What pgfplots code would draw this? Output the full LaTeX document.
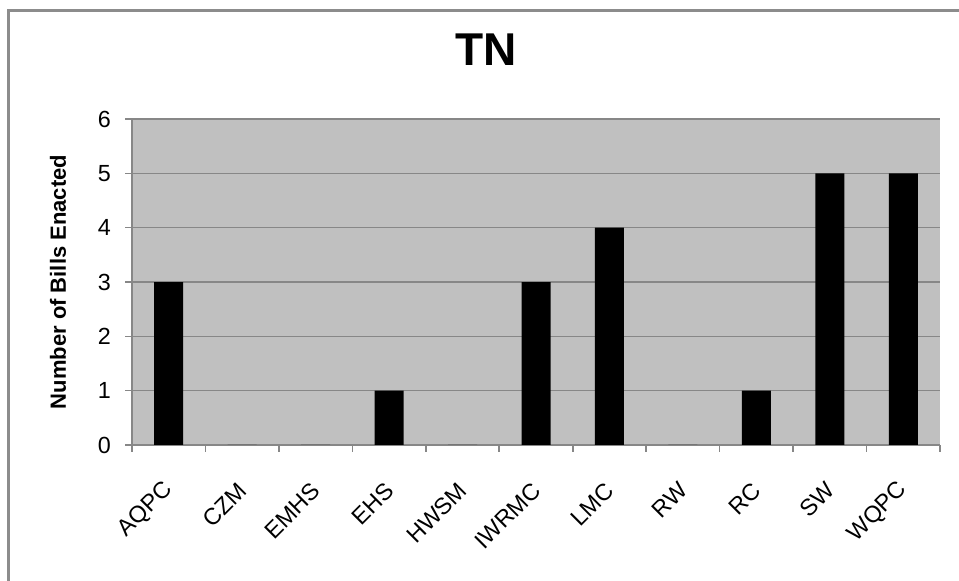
\documentclass[border=0pt]{standalone}
\usepackage{fontspec}
\setmainfont{Liberation Sans}
\usepackage{pgfplots}
\pgfplotsset{compat=1.18}
\definecolor{plotbg}{HTML}{C0C0C0}
\definecolor{gridgray}{HTML}{878787}
\definecolor{framegray}{HTML}{8C8C8C}
\begin{document}
\begin{tikzpicture}
\useasboundingbox (0,0) rectangle (719.25pt,435.75pt);
\draw[framegray, line width=2.25pt] (6pt,-5pt) -- (6pt,427.5pt) -- (725pt,427.5pt);
\begin{axis}[
  at={(99pt,102pt)}, anchor=south west,
  width=606pt, height=244.5pt, scale only axis,
  xmin=-0.5, xmax=10.5, ymin=0, ymax=6,
  axis background/.style={fill=plotbg},
  axis lines=left, axis line style={-, draw=gridgray, line width=1.2pt},
  ymajorgrids, grid style={gridgray, line width=1.2pt},
  ytick={0,1,2,3,4,5,6},
  xtick={0,...,10},
  xticklabels={AQPC,CZM,EMHS,EHS,HWSM,IWRMC,LMC,RW,RC,SW,WQPC},
  minor xtick={-0.5,0.5,...,10.5},
  tick align=outside,
  major tick length=5.25pt, minor tick length=5.25pt,
  major x tick style={draw=none},
  every tick/.style={gridgray, line width=1.2pt},
  minor x tick style={gridgray, line width=1.2pt},
  tick label style={font=\fontsize{17.5}{20}\selectfont},
  yticklabel style={xshift=-7pt},
  xticklabel style={xshift=2.8pt, yshift=-23.5pt, rotate=45, anchor=east},
  /pgf/number format/assume math mode=true,
  ylabel={Number of Bills Enacted},
  ylabel style={font=\bfseries\fontsize{16.5}{18}\selectfont, at={(axis description cs:-0.0916,0.5)}, anchor=center, rotate=0},
  title={TN},
  title style={font=\bfseries\fontsize{34.5}{38}\selectfont, at={(axis description cs:0.438,1.187)}, anchor=center},
  ybar, bar width=21.75pt,
]
\addplot[fill=black, draw=none, bar shift=0pt] coordinates {
  (0,3) (1,0) (2,0) (3,1) (4,0) (5,3) (6,4) (7,0) (8,1) (9,5) (10,5)
};
\end{axis}
\end{tikzpicture}
\end{document}
